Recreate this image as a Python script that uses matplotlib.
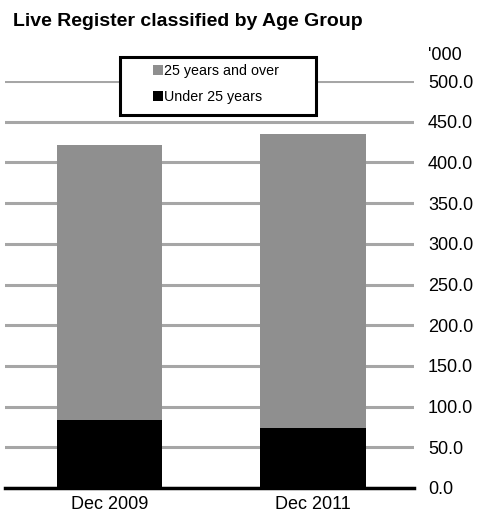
import matplotlib
matplotlib.use('Agg')
import matplotlib.pyplot as plt
from matplotlib.patches import Patch, Rectangle

# Data ('000)
categories = ['Dec 2009', 'Dec 2011']
under_25 = [83.5, 73.7]
over_25 = [338.0, 361.0]
yticks = [0, 50, 100, 150, 200, 250, 300, 350, 400, 450, 500]

plt.rcParams['font.family'] = ['Liberation Sans', 'DejaVu Sans']

W, H = 481, 518
fig = plt.figure(figsize=(W / 100, H / 100), dpi=100)
ax = fig.add_axes([5 / W, (H - 488) / H, (414 - 5) / W, (488 - 81) / H])

x = range(len(categories))
ax.set_ylim(0, 500)
ax.set_xlim(-0.513, 1.496)
ax.set_yticks(yticks)
ax.yaxis.grid(True, color='#a6a6a6', linewidth=2.2)
ax.set_axisbelow(True)

ax.bar(x, under_25, width=0.516, color='black', zorder=3, label='Under 25 years')
ax.bar(x, over_25, bottom=under_25, width=0.516, color='#8f8f8f', zorder=3,
       label='25 years and over')
ax.axhline(0, color='black', linewidth=2.5, zorder=4, clip_on=False)

for s in ax.spines.values():
    s.set_visible(False)
ax.yaxis.tick_right()
ax.tick_params(axis='y', length=0, pad=10, labelsize=13)
ax.set_yticklabels(['%.1f' % v for v in yticks])
ax.set_xticks(list(x))
ax.set_xticklabels(categories)
ax.tick_params(axis='x', length=0, pad=6, labelsize=13)

fig.text(13 / W, 1 - 21 / H, 'Live Register classified by Age Group',
         fontsize=14, fontweight='bold', va='center', ha='left')
fig.text(428 / W, 1 - 55 / H, "'000", fontsize=13, va='center', ha='left')

# legend box drawn separately so it can be wider than its contents
fig.patches.append(Rectangle((120 / W, 1 - 115 / H), 196 / W, 58 / H,
                             transform=fig.transFigure, facecolor='white',
                             edgecolor='black', linewidth=2.2, zorder=5))
handles = [Patch(facecolor='#8f8f8f', label='25 years and over'),
           Patch(facecolor='black', label='Under 25 years')]
leg = fig.legend(handles=handles, loc='upper left',
                 bbox_to_anchor=(150 / W, 1 - 61 / H), fontsize=10.3,
                 frameon=False, handlelength=0.7, handleheight=0.7,
                 handletextpad=0.1, borderpad=0.2, labelspacing=0.85,
                 borderaxespad=0)
leg.set_zorder(6)

fig.savefig('out.png', dpi=100)
